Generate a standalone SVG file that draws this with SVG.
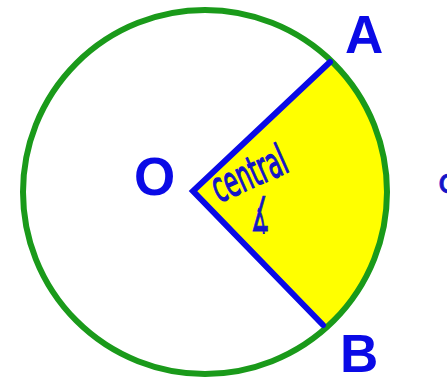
<svg xmlns="http://www.w3.org/2000/svg" width="447" height="381" viewBox="0 0 447 381">
<style>
.lbl{font-family:"Liberation Sans",Arial,sans-serif;font-weight:bold;fill:#0a0ae6;font-size:53px}
.hand{font-family:"DejaVu Sans","Liberation Sans",sans-serif;fill:#1414c8;stroke:#1414c8;stroke-width:0.8}
.radius{fill:none;stroke:#0a0ae6;stroke-width:6;stroke-linecap:round;stroke-linejoin:miter}
</style>
<rect width="447" height="381" fill="#ffffff"/>
<g id="sector">
<path d="M193,191 L331.2,60.8 A182,182 0 0 1 326,328 Z" fill="#ffff00"/>
</g>
<g id="circle">
<circle cx="205" cy="192" r="182" fill="none" stroke="#1a9a1a" stroke-width="6"/>
</g>
<g id="connectors">
<polyline class="radius" points="330,62 193,191 323,325"/>
</g>
<g id="label-O"><text class="lbl" x="134" y="195">O</text></g>
<g id="label-A"><text class="lbl" x="345" y="53">A</text></g>
<g id="label-B"><text class="lbl" x="340" y="372">B</text></g>
<g id="annotation">
<text class="hand" font-size="25" transform="translate(219,203) rotate(-24) scale(0.9,1.7)">central</text>
<text class="hand" font-size="34" transform="translate(251,231) scale(0.62,1.4)">∡</text>
<text class="hand" font-size="34" x="438" y="193">c</text>
</g>
</svg>
